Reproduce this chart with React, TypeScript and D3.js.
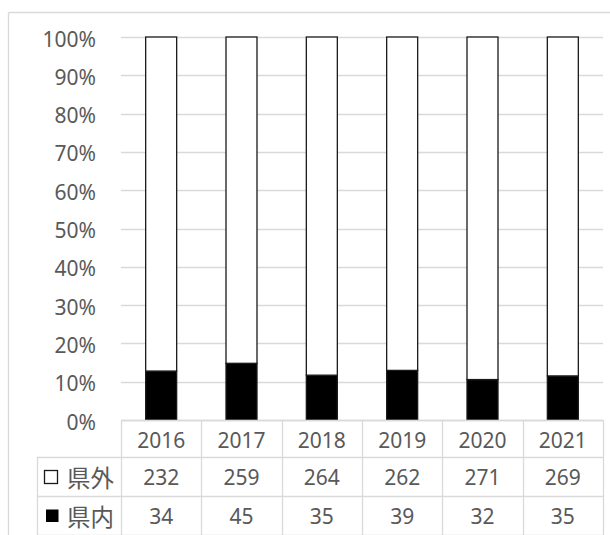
import React from "react";
import * as d3 from "d3";

const years = ["2016", "2017", "2018", "2019", "2020", "2021"];
const outside = [232, 259, 264, 262, 271, 269]; // 県外
const inside = [34, 45, 35, 39, 32, 35]; // 県内
const yTicks = [0, 0.1, 0.2, 0.3, 0.4, 0.5, 0.6, 0.7, 0.8, 0.9, 1];
const seriesNames = ["県外", "県内"];

const W = 610;
const H = 535;
const plotLeft = 121;
const plotRight = 603;
const plotTop = 37;
const plotBottom = 420;
const rowH = [37, 39, 39];
const FONT = "'Noto Sans', 'Noto Sans CJK JP', sans-serif";
const CJK = "'Noto Sans CJK JP', sans-serif";
const TEXT = "#595959";
const GRID = "#d9d9d9";

export default function App() {
  const x = d3.scaleBand<string>().domain(years).range([plotLeft, plotRight]).padding(0);
  const y = d3.scaleLinear().domain([0, 1]).range([plotBottom, plotTop]);
  const barW = 31;

  const rows = years.map((yr, i) => {
    const total = outside[i] + inside[i];
    return { yr, inShare: inside[i] / total };
  });
  const stack = d3
    .stack<{ yr: string; inShare: number }>()
    .keys(["in", "out"])
    .value((d, k) => (k === "in" ? d.inShare : 1 - d.inShare));
  const series = stack(rows);

  const r1 = plotBottom;
  const r2 = r1 + rowH[0];
  const r3 = r2 + rowH[1];
  const r4 = r3 + rowH[2];
  const tableLeft = 37;

  return (
    <svg
      width={W}
      height={H}
      style={{ position: "absolute", left: 0, top: 0, background: "#fff" }}
      fontFamily={FONT}
    >
      <rect x={0} y={0} width={W} height={H} fill="#fff" />
      {/* outer chart border */}
      <line x1={8.5} y1={12.5} x2={W + 5} y2={12.5} stroke={GRID} strokeWidth={1.3} />
      <line x1={8.5} y1={12.5} x2={8.5} y2={H + 5} stroke={GRID} strokeWidth={1.3} />

      {/* grid lines */}
      {yTicks.map((t) => (
        <line
          key={t}
          x1={plotLeft}
          x2={plotRight}
          y1={Math.round(y(t)) + 0.5}
          y2={Math.round(y(t)) + 0.5}
          stroke={GRID}
          strokeWidth={1.3}
        />
      ))}
      {/* y labels */}
      {yTicks.map((t) => (
        <text
          key={"l" + t}
          x={96}
          y={y(t) + 1.5}
          textAnchor="end"
          dominantBaseline="central"
          fontSize={21}
          fill={TEXT}
        >
          {d3.format(".0%")(t)}
        </text>
      ))}

      {/* bars */}
      {series.map((s) =>
        s.map((d, i) => {
          const bx = (x(years[i]) as number) + (x.bandwidth() - barW) / 2;
          return (
            <rect
              key={s.key + i}
              x={bx}
              y={y(d[1])}
              width={barW}
              height={y(d[0]) - y(d[1])}
              fill={s.key === "in" ? "#000" : "#fff"}
              stroke="#1a1a1a"
              strokeWidth={1.3}
            />
          );
        })
      )}

      {/* data table lines */}
      <line x1={plotLeft} x2={plotRight} y1={r1 + 0.5} y2={r1 + 0.5} stroke={GRID} strokeWidth={1.3} />
      <line x1={tableLeft} x2={plotRight} y1={r2 + 0.5} y2={r2 + 0.5} stroke={GRID} strokeWidth={1.3} />
      <line x1={tableLeft} x2={plotRight} y1={r3 + 0.5} y2={r3 + 0.5} stroke={GRID} strokeWidth={1.3} />
      <line x1={tableLeft} x2={plotRight} y1={r4 + 0.5} y2={r4 + 0.5} stroke={GRID} strokeWidth={1.3} />
      <line x1={tableLeft + 0.5} x2={tableLeft + 0.5} y1={r2} y2={r4} stroke={GRID} strokeWidth={1.3} />
      {years.map((yr) => (
        <line
          key={"v" + yr}
          x1={Math.round(x(yr) as number) + 0.5}
          x2={Math.round(x(yr) as number) + 0.5}
          y1={r1}
          y2={r4}
          stroke={GRID}
          strokeWidth={1.3}
        />
      ))}
      <line x1={plotRight + 0.5} x2={plotRight + 0.5} y1={r1} y2={r4} stroke={GRID} strokeWidth={1.3} />

      {/* table text */}
      {years.map((yr, i) => {
        const cx = (x(yr) as number) + x.bandwidth() / 2;
        return (
          <g key={"t" + yr} fontSize={21} fill={TEXT} textAnchor="middle">
            <text x={cx} y={(r1 + r2) / 2 + 1} dominantBaseline="central">
              {yr}
            </text>
            <text x={cx} y={(r2 + r3) / 2} dominantBaseline="central">
              {outside[i]}
            </text>
            <text x={cx} y={(r3 + r4) / 2} dominantBaseline="central">
              {inside[i]}
            </text>
          </g>
        );
      })}

      {/* row labels with legend keys */}
      <rect x={44.5} y={(r2 + r3) / 2 - 6} width={13} height={13} fill="#fff" stroke="#1a1a1a" strokeWidth={1.3} />
      <text x={67} y={(r2 + r3) / 2} dominantBaseline="central" fontSize={23.5} fill={TEXT} fontFamily={CJK}>
        {seriesNames[0]}
      </text>
      <rect x={46} y={(r3 + r4) / 2 - 6} width={12.5} height={12.5} fill="#000" />
      <text x={67} y={(r3 + r4) / 2} dominantBaseline="central" fontSize={23.5} fill={TEXT} fontFamily={CJK}>
        {seriesNames[1]}
      </text>
    </svg>
  );
}
